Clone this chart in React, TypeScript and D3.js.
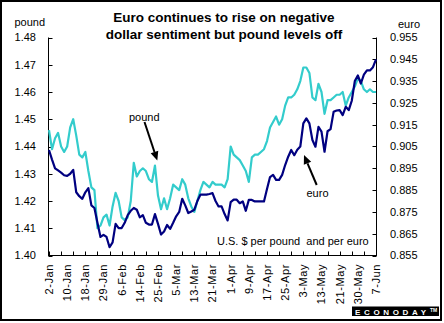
import React from "react";
import * as d3 from "d3";

const W = 444;
const H = 323;

const xLabels = ["2-Jan", "10-Jan", "18-Jan", "29-Jan", "6-Feb", "14-Feb", "25-Feb", "5-Mar", "13-Mar", "21-Mar", "1-Apr", "9-Apr", "17-Apr", "25-Apr", "3-May", "13-May", "21-May", "30-May", "7-Jun"];
const leftTicks = [1.40, 1.41, 1.42, 1.43, 1.44, 1.45, 1.46, 1.47, 1.48];
const rightTicks = [0.855, 0.865, 0.875, 0.885, 0.895, 0.905, 0.915, 0.925, 0.935, 0.945, 0.955];

const pound = [
  1.446, 1.439, 1.443, 1.445, 1.440, 1.438, 1.440, 1.447, 1.450, 1.444,
  1.437, 1.436, 1.438, 1.431, 1.425, 1.424, 1.410, 1.411, 1.414, 1.415,
  1.411, 1.418, 1.423, 1.420, 1.414, 1.413, 1.414, 1.420, 1.434, 1.429,
  1.431, 1.432, 1.431, 1.428, 1.427, 1.433, 1.422, 1.417, 1.421, 1.417,
  1.421, 1.426, 1.425, 1.424, 1.428, 1.426, 1.421, 1.418, 1.416, 1.420,
  1.424, 1.427, 1.426, 1.425, 1.427, 1.426, 1.426, 1.426, 1.425, 1.428,
  1.440, 1.437, 1.436, 1.435, 1.433, 1.431, 1.427, 1.436, 1.437, 1.437,
  1.438, 1.439, 1.442, 1.447, 1.449, 1.451, 1.448, 1.450, 1.455, 1.458,
  1.458, 1.459, 1.461, 1.464, 1.469, 1.469, 1.467, 1.458, 1.457, 1.463,
  1.460, 1.452, 1.457, 1.457, 1.458, 1.459, 1.459, 1.460, 1.455, 1.458,
  1.460, 1.462, 1.465, 1.464, 1.461, 1.460, 1.461, 1.460, 1.460,
];

const euro = [
  0.9034, 0.899, 0.895, 0.894, 0.893, 0.8918, 0.8915, 0.8925, 0.8943, 0.884,
  0.8822, 0.881, 0.884, 0.8859, 0.878, 0.8768, 0.870, 0.8635, 0.8645, 0.8635,
  0.8588, 0.861, 0.8695, 0.8676, 0.8676, 0.870, 0.8735, 0.8755, 0.8768, 0.876,
  0.8725, 0.8735, 0.870, 0.8692, 0.8692, 0.874, 0.8695, 0.8646, 0.866, 0.869,
  0.8672, 0.870, 0.873, 0.875, 0.881, 0.878, 0.8745, 0.8752, 0.876, 0.880,
  0.8829, 0.8829, 0.8829, 0.8832, 0.8836, 0.880, 0.8775, 0.8775, 0.874, 0.8711,
  0.8795, 0.8806, 0.8806, 0.879, 0.8798, 0.8755, 0.8805, 0.8805, 0.8798, 0.8798,
  0.8798, 0.8798, 0.8855, 0.891, 0.892, 0.8897, 0.8897, 0.892, 0.8965, 0.9003,
  0.9034, 0.901, 0.9035, 0.905, 0.9156, 0.9179, 0.9156, 0.908, 0.9049, 0.914,
  0.9118, 0.9026, 0.912, 0.913, 0.9209, 0.9215, 0.9217, 0.9194, 0.9232, 0.9217,
  0.926, 0.935, 0.9376, 0.9339, 0.938, 0.9399, 0.9399, 0.9414, 0.9450,
];

const FONT = "'Liberation Sans', Arial, sans-serif";

export default function App() {
  const n = pound.length - 1;
  const x = d3.scaleLinear().domain([0, n]).range([49, 376]);
  const yL = d3.scaleLinear().domain([1.40, 1.48]).range([255.5, 37.5]);
  const yR = d3.scaleLinear().domain([0.855, 0.955]).range([255.5, 37.5]);
  const lineL = d3.line<number>().x((_, i) => x(i)).y((d) => yL(d));
  const lineR = d3.line<number>().x((_, i) => x(i)).y((d) => yR(d));
  const xTickIdx = d3.range(0, n + 1, 4);
  const xLabelIdx = d3.range(0, n + 1, 6);

  const arrow = (x1: number, y1: number, x2: number, y2: number) => {
    const ang = Math.atan2(y2 - y1, x2 - x1);
    const L = 9, Wd = 4;
    const bx = x2 - L * Math.cos(ang), by = y2 - L * Math.sin(ang);
    const px = -Math.sin(ang) * Wd, py = Math.cos(ang) * Wd;
    return (
      <g>
        <line x1={x1} y1={y1} x2={bx} y2={by} stroke="#000" strokeWidth={2} />
        <polygon points={`${x2},${y2} ${bx + px},${by + py} ${bx - px},${by - py}`} fill="#000" />
      </g>
    );
  };

  return (
    <div style={{ position: "absolute", left: 0, top: 0 }}>
      <svg width={W} height={H} style={{ display: "block" }} fontFamily={FONT}>
        <rect x={0} y={0} width={W} height={H} fill="#fff" />
        <rect x={1} y={1} width={440} height={319} fill="none" stroke="#000" strokeWidth={2} />
        <text x={224} y={21.5} textAnchor="middle" fontSize={13.5} fontWeight="bold">Euro continues to rise on negative</text>
        <text x={224} y={39} textAnchor="middle" fontSize={13.5} fontWeight="bold">dollar sentiment but pound levels off</text>
        <text x={14.5} y={25.5} fontSize={11}>pound</text>
        <text x={398} y={27.5} fontSize={11}>euro</text>

        {/* axes */}
        <line x1={48.5} y1={37.5} x2={48.5} y2={256} stroke="#000" />
        <line x1={376.5} y1={37.5} x2={376.5} y2={256} stroke="#000" />
        <line x1={48} y1={255.5} x2={377} y2={255.5} stroke="#000" />
        {leftTicks.map((t) => (
          <g key={"l" + t}>
            <line x1={48.5} x2={52.5} y1={Math.round(yL(t)) + 0.5} y2={Math.round(yL(t)) + 0.5} stroke="#000" />
            <text x={36} y={yL(t)} dy="0.35em" textAnchor="end" fontSize={11}>{t.toFixed(2)}</text>
          </g>
        ))}
        {rightTicks.map((t) => (
          <g key={"r" + t}>
            <line x1={372.5} x2={376.5} y1={Math.round(yR(t)) + 0.5} y2={Math.round(yR(t)) + 0.5} stroke="#000" />
            <text x={390} y={yR(t)} dy="0.35em" fontSize={11}>{t.toFixed(3)}</text>
          </g>
        ))}
        {xTickIdx.map((i) => (
          <line key={"xt" + i} x1={Math.round(x(i)) + 0.5} x2={Math.round(x(i)) + 0.5} y1={255.5} y2={251.5} stroke="#000" />
        ))}
        {xLabelIdx.map((i, k) => (
          <text key={"xl" + i} transform={`translate(${x(i)},264) rotate(-90)`} dy="0.35em" textAnchor="end" fontSize={11} letterSpacing={0.6}>
            {xLabels[k]}
          </text>
        ))}

        {/* series */}
        <path d={lineL(pound) || ""} fill="none" stroke="#33CCCC" strokeWidth={2.2} strokeLinejoin="round" />
        <path d={lineR(euro) || ""} fill="none" stroke="#000080" strokeWidth={2.2} strokeLinejoin="round" />

        {/* annotations */}
        <text x={129} y={120.5} fontSize={11}>pound</text>
        {arrow(144.5, 122, 157.3, 160.5)}
        <text x={306.5} y={196.5} fontSize={11}>euro</text>
        {arrow(316.7, 185, 304, 155)}
        <text x={217} y={245} fontSize={11} style={{ whiteSpace: "pre" }}>{"U.S. $ per pound  and per euro"}</text>

        {/* logo */}
        <rect x={352} y={306.5} width={87} height={9.5} fill="#000" />
        <text x={355} y={314.5} fontSize={8} fontWeight="bold" fill="#fff" textLength={71} lengthAdjust="spacing">ECONODAY</text>
        <text x={430} y={311.5} fontSize={5} fontWeight="bold" fill="#fff">TM</text>
      </svg>
    </div>
  );
}
